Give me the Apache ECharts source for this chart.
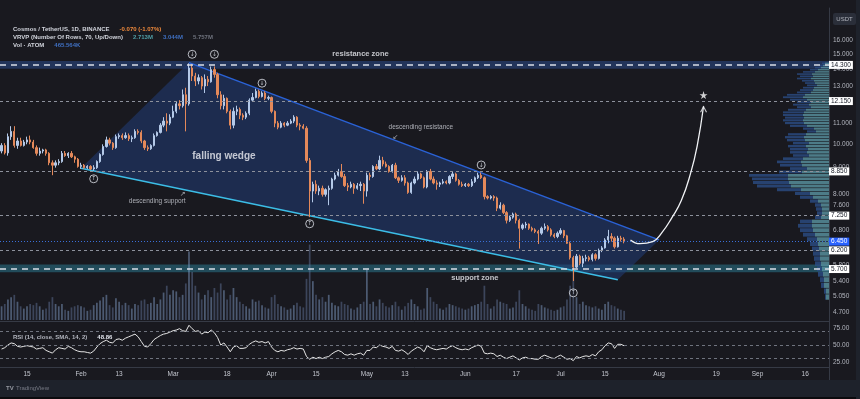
<!DOCTYPE html>
<html>
<head>
<meta charset="utf-8">
<title>ATOM/USDT 1D falling wedge</title>
<script src="https://cdn.jsdelivr.net/npm/echarts@6/dist/echarts.min.js"></script>
<style>
html, body { margin: 0; padding: 0; background: #19191f; }
#chart { width: 860px; height: 399px; }
</style>
</head>
<body>
<div id="chart"></div>
<script>
// daily categories shown on the time scale
var startDay = '2024-01-07';
var endDay = '2024-09-23';

// ATOM/USDT daily candles from Jan 7, [open, close, low, high]
var ohlc = [
    // Jan
    [9.70, 9.95, 9.60, 10.05], [9.95, 9.62, 9.55, 10.05], [9.62, 10.35, 9.50, 10.50], [10.35, 10.60, 10.20, 10.85],
    [10.60, 9.95, 9.85, 10.85], [9.95, 10.15, 9.80, 10.30], [10.15, 9.95, 9.90, 10.30], [9.95, 10.10, 9.90, 10.20],
    [10.10, 10.20, 10.00, 10.35], [10.20, 10.10, 10.00, 10.40], [10.10, 9.85, 9.80, 10.20], [9.85, 9.60, 9.50, 9.95],
    [9.60, 9.70, 9.50, 9.85], [9.70, 9.75, 9.60, 9.80], [9.75, 9.60, 9.50, 9.80], [9.60, 9.20, 9.10, 9.65],
    [9.20, 9.10, 8.70, 9.30], [9.10, 9.20, 9.00, 9.30], [9.20, 9.25, 9.10, 9.35], [9.25, 9.60, 9.20, 9.70],
    [9.60, 9.50, 9.45, 9.70], [9.50, 9.60, 9.40, 9.65], [9.60, 9.45, 9.40, 9.70], [9.45, 9.35, 9.20, 9.50],
    [9.35, 9.05, 9.00, 9.40],
    // Feb
    [9.05, 9.10, 8.95, 9.20], [9.10, 9.00, 8.95, 9.15], [9.00, 9.05, 8.95, 9.10], [9.05, 8.95, 8.90, 9.10],
    [8.95, 9.00, 8.88, 9.10], [9.00, 9.25, 8.95, 9.30], [9.25, 9.55, 9.20, 9.60], [9.55, 9.90, 9.50, 10.00],
    [9.90, 10.20, 9.85, 10.35], [10.20, 10.05, 9.95, 10.30], [10.05, 9.85, 9.75, 10.10], [9.85, 10.35, 9.80, 10.45],
    [10.35, 10.40, 10.25, 10.50], [10.40, 10.30, 10.20, 10.50], [10.30, 10.40, 10.25, 10.55], [10.40, 10.25, 10.15, 10.50],
    [10.25, 10.30, 10.10, 10.40], [10.30, 10.60, 10.25, 10.70], [10.60, 10.55, 10.45, 10.70], [10.55, 10.15, 10.05, 10.65],
    [10.15, 9.85, 9.75, 10.20], [9.85, 9.80, 9.70, 9.95], [9.80, 9.95, 9.75, 10.00], [9.95, 10.40, 9.90, 10.50],
    [10.40, 10.55, 10.35, 10.60], [10.55, 10.90, 10.50, 11.00], [10.90, 11.10, 10.80, 11.30], [11.10, 11.00, 10.60, 11.50],
    [11.00, 11.30, 10.90, 11.45],
    // Mar
    [11.30, 11.60, 11.25, 11.90], [11.60, 12.00, 11.50, 12.10], [12.00, 11.90, 11.70, 12.20], [11.90, 12.50, 11.80, 12.80],
    [12.50, 12.00, 10.60, 12.90], [12.00, 14.10, 11.90, 14.40], [14.10, 13.60, 13.30, 14.35], [13.60, 13.30, 13.00, 13.80],
    [13.30, 13.50, 13.10, 13.70], [13.50, 13.00, 12.80, 13.60], [13.00, 13.40, 12.60, 13.70], [13.40, 13.25, 13.00, 13.60],
    [13.25, 14.00, 13.20, 14.20], [14.00, 13.70, 13.50, 14.20], [13.70, 12.50, 12.30, 13.80], [12.50, 11.90, 11.70, 12.70],
    [11.90, 12.30, 11.70, 12.50], [12.30, 11.60, 11.50, 12.35], [11.60, 10.90, 10.70, 11.70], [10.90, 11.60, 10.75, 11.80],
    [11.60, 11.70, 11.40, 11.90], [11.70, 11.40, 11.20, 11.80], [11.40, 11.30, 11.15, 11.50], [11.30, 11.50, 11.20, 11.60],
    [11.50, 12.20, 11.40, 12.30], [12.20, 12.35, 12.10, 12.60], [12.35, 12.70, 12.30, 12.85], [12.70, 12.40, 12.30, 12.80],
    [12.40, 12.60, 12.35, 12.70], [12.60, 12.30, 12.20, 12.70], [12.30, 12.35, 12.20, 12.45],
    // Apr
    [12.35, 11.60, 11.50, 12.40], [11.60, 11.00, 10.80, 11.65], [11.00, 10.80, 10.70, 11.10], [10.80, 11.00, 10.75, 11.10],
    [11.00, 10.90, 10.80, 11.05], [10.90, 11.00, 10.85, 11.10], [11.00, 11.10, 10.95, 11.20], [11.10, 11.30, 11.00, 11.40],
    [11.30, 10.90, 10.80, 11.35], [10.90, 10.85, 10.65, 11.00], [10.85, 10.75, 10.70, 10.95], [10.75, 9.30, 9.20, 10.85],
    [9.30, 8.10, 7.20, 9.40], [8.10, 8.35, 7.70, 8.45], [8.35, 8.10, 8.00, 8.50], [8.10, 8.20, 7.95, 8.30],
    [8.20, 7.98, 7.90, 8.30], [7.98, 8.15, 7.90, 8.20], [8.15, 8.20, 7.60, 8.30], [8.20, 8.55, 8.15, 8.60],
    [8.55, 8.70, 8.50, 8.80], [8.70, 8.85, 8.65, 8.95], [8.85, 8.65, 8.60, 9.15], [8.65, 8.30, 8.25, 8.75],
    [8.30, 8.25, 8.10, 8.40], [8.25, 8.35, 8.20, 8.45], [8.35, 8.20, 8.00, 8.40], [8.20, 8.30, 8.15, 8.40],
    [8.30, 8.35, 8.10, 8.45], [8.35, 8.10, 7.65, 8.40],
    // May
    [8.10, 8.70, 7.90, 8.80], [8.70, 8.65, 8.50, 8.80], [8.65, 9.05, 8.60, 9.10], [9.05, 8.95, 8.90, 9.15],
    [8.95, 9.30, 8.90, 9.50], [9.30, 9.15, 9.05, 9.45], [9.15, 9.05, 9.00, 9.25], [9.05, 8.85, 8.80, 9.10],
    [8.85, 9.10, 8.80, 9.15], [9.10, 8.60, 8.55, 9.20], [8.60, 8.50, 8.40, 8.65], [8.50, 8.60, 8.45, 8.70],
    [8.60, 8.40, 8.30, 8.70], [8.40, 8.05, 8.00, 8.45], [8.05, 8.40, 8.00, 8.45], [8.40, 8.55, 8.35, 8.65],
    [8.55, 8.75, 8.50, 8.85], [8.75, 8.60, 8.55, 8.80], [8.60, 8.25, 8.20, 8.65], [8.25, 8.85, 8.20, 8.90],
    [8.85, 8.55, 8.50, 8.95], [8.55, 8.40, 8.35, 8.65], [8.40, 8.35, 8.15, 8.50], [8.35, 8.40, 8.25, 8.45],
    [8.40, 8.45, 8.35, 8.55], [8.45, 8.40, 8.35, 8.50], [8.40, 8.65, 8.35, 8.70], [8.65, 8.75, 8.55, 8.85],
    [8.75, 8.50, 8.45, 8.80], [8.50, 8.35, 8.30, 8.55], [8.35, 8.30, 8.25, 8.45],
    // Jun
    [8.30, 8.35, 8.25, 8.40], [8.35, 8.30, 8.25, 8.40], [8.30, 8.45, 8.25, 8.55], [8.45, 8.60, 8.40, 8.65],
    [8.60, 8.70, 8.55, 8.80], [8.70, 8.60, 8.55, 8.80], [8.60, 7.90, 7.80, 8.65], [7.90, 7.85, 7.80, 7.95],
    [7.85, 7.90, 7.80, 7.95], [7.90, 7.85, 7.75, 7.95], [7.85, 7.50, 7.40, 7.90], [7.50, 7.60, 7.45, 7.70],
    [7.60, 7.35, 7.30, 7.65], [7.35, 7.10, 7.00, 7.40], [7.10, 7.20, 7.05, 7.25], [7.20, 7.30, 7.15, 7.35],
    [7.30, 7.10, 7.00, 7.35], [7.10, 6.85, 6.25, 7.15], [6.85, 6.95, 6.80, 7.00], [6.95, 6.98, 6.85, 7.05],
    [6.98, 6.85, 6.80, 7.00], [6.85, 6.80, 6.75, 6.90], [6.80, 6.75, 6.70, 6.85], [6.75, 6.70, 6.38, 6.80],
    [6.70, 6.85, 6.65, 6.90], [6.85, 6.90, 6.80, 7.00], [6.90, 6.80, 6.75, 6.95], [6.80, 6.65, 6.60, 6.85],
    [6.65, 6.60, 6.55, 6.70], [6.60, 6.70, 6.55, 6.75],
    // Jul
    [6.70, 6.78, 6.65, 6.85], [6.78, 6.62, 6.55, 6.80], [6.62, 6.40, 6.38, 6.65], [6.40, 6.00, 5.95, 6.45],
    [6.00, 5.75, 5.40, 6.05], [5.75, 6.04, 5.72, 6.10], [6.04, 5.85, 5.80, 6.08], [5.85, 5.98, 5.75, 6.05],
    [5.98, 6.00, 5.90, 6.08], [6.00, 5.95, 5.90, 6.05], [5.95, 6.08, 5.90, 6.12], [6.08, 5.98, 5.92, 6.12],
    [5.98, 6.20, 5.95, 6.25], [6.20, 6.27, 6.15, 6.32], [6.27, 6.50, 6.25, 6.55], [6.50, 6.60, 6.40, 6.80],
    [6.60, 6.55, 6.45, 6.70], [6.55, 6.30, 6.25, 6.60], [6.30, 6.55, 6.28, 6.62], [6.55, 6.52, 6.45, 6.62],
    [6.52, 6.45, 6.40, 6.58]
];

// daily volume, millions of ATOM
var volume = [
    12, 14, 18, 20, 22, 16, 12, 10, 12, 14, 13, 15, 12, 9, 10, 16, 20, 14, 12, 14, 9, 8, 11, 12, 13,
    12, 11, 8, 9, 13, 15, 17, 20, 22, 13, 11, 19, 16, 13, 15, 13, 10, 14, 13, 17, 18, 14, 15, 20, 14, 18, 24, 30, 22,
    26, 25, 20, 22, 32, 60, 42, 30, 24, 18, 22, 26, 20, 28, 24, 32, 26, 18, 22, 28, 20, 16, 14, 12, 10, 18, 16, 17, 13, 11, 10,
    20, 22, 14, 12, 11, 9, 10, 13, 15, 12, 11, 36, 66, 34, 22, 18, 20, 16, 22, 15, 13, 12, 16, 14, 13, 10, 9, 11, 14, 16,
    44, 14, 16, 12, 18, 15, 12, 11, 13, 16, 12, 9, 12, 15, 18, 14, 12, 9, 10, 28, 20, 16, 14, 10, 9, 11, 14, 13, 12, 11, 10,
    9, 10, 12, 13, 14, 16, 30, 14, 10, 12, 18, 16, 15, 14, 10, 11, 16, 26, 14, 12, 10, 9, 8, 14, 13, 11, 10, 9, 8, 9,
    11, 12, 18, 30, 44, 20, 14, 16, 13, 12, 11, 12, 10, 9, 14, 16, 13, 12, 10, 9, 8
];

// RSI(14) daily
var rsi = [
    44, 46, 50, 53, 52, 48, 47, 48, 49, 48,
    47, 44, 45, 46, 42, 40, 38, 43, 46, 45,
    44, 48, 46, 43, 41, 40, 40, 39, 38, 41,
    47, 52, 55, 57, 54, 53, 58, 59, 57, 60,
    62, 64, 66, 62, 55, 48, 47, 52, 58, 61,
    64, 66, 67, 69, 71, 72, 74, 71, 70, 79,
    74, 70, 71, 66, 69, 68, 72, 68, 61, 50,
    53, 47, 40, 47, 49, 45, 45, 46, 51, 54,
    56, 54, 55, 53, 55, 47, 42, 40, 42, 41,
    43, 44, 46, 44, 45, 44, 33, 29, 32, 30,
    32, 30, 32, 33, 37, 40, 42, 40, 36, 35,
    37, 35, 37, 38, 35, 42, 42, 47, 46, 50,
    48, 47, 45, 48, 42, 41, 43, 40, 36, 41,
    44, 47, 45, 40, 49, 46, 44, 43, 44, 45,
    44, 47, 49, 46, 44, 43, 44, 43, 46, 48,
    50, 48, 38, 37, 38, 37, 33, 35, 32, 30,
    32, 34, 31, 28, 31, 32, 30, 30, 29, 29,
    33, 35, 33, 31, 30, 33, 35, 32, 29, 30,
    27, 33, 31, 33, 34, 33, 36, 34, 40, 43,
    49, 53, 52, 45, 51, 51, 48.86
];

// price scale labels, key levels
var priceTicks = [16, 15, 14, 13, 11, 10, 9, 8, 7.6, 6.8, 5.8, 5.4, 5.05, 4.7];
var keyLevels = [14.3, 12.15, 8.85, 7.25, 6.2, 5.7];
var zoneLevels = [14.3, 5.7];
var lastPrice = 6.45;
var resistanceBand = [14.05, 14.55];
var supportBand = [5.62, 5.82];
var rsiLevels = [70, 50, 30];
var rsiTicks = [25, 50, 75];
var timeTicks = ['2024-01-15', '2024-02-01', '2024-02-13', '2024-03-01', '2024-03-18', '2024-04-01',
    '2024-04-15', '2024-05-01', '2024-05-13', '2024-06-01', '2024-06-17', '2024-07-01', '2024-07-15',
    '2024-08-01', '2024-08-19', '2024-09-01', '2024-09-16'];

// drawing: wedge, trend lines, projected move
var wedgeFill = [['2024-02-01', 8.98], ['2024-03-06', 14.45], ['2024-08-01', 6.50], ['2024-07-19', 5.43]];
var upperLine = [['2024-03-06', 14.45], ['2024-08-01', 6.50]];
var lowerLine = [['2024-02-01', 8.98], ['2024-07-19', 5.43]];
var projection = [['2024-07-23', 6.50], ['2024-07-26', 6.39], ['2024-07-30', 6.45], ['2024-08-02', 6.73],
    ['2024-08-05', 7.18], ['2024-08-08', 7.76], ['2024-08-11', 8.81], ['2024-08-13', 9.93], ['2024-08-15', 11.87]];
var target = ['2024-08-15', 12.48];
var touches = [['2024-02-05', 8.56, '↑'], ['2024-03-07', 15.0, '↓'], ['2024-03-14', 15.0, '↓'],
    ['2024-03-29', 13.17, '↓'], ['2024-04-13', 6.99, '↑'], ['2024-06-06', 9.11, '↓'], ['2024-07-05', 5.12, '↑']];
var notes = [
    ['2024-04-29', 15.0, 'resistance zone', 'zone'],
    ['2024-05-18', 10.8, 'descending resistance', 'tag'],
    ['2024-05-10', 10.34, '↙', 'arrow'],
    ['2024-03-17', 9.49, 'falling wedge', 'title'],
    ['2024-02-25', 7.74, 'descending support', 'tag'],
    ['2024-03-04', 7.98, '↗', 'arrow'],
    ['2024-06-04', 5.47, 'support zone', 'zone']
];

// legend lines at the top left
var headerLines = [
    [['Cosmos / TetherUS, 1D, BINANCE', 'w'], ['-0.070 (-1.07%)', 'o']],
    [['VRVP (Number Of Rows, 70, Up/Down)', 'w'], ['2.713M', 't'], ['3.044M', 'b'], ['5.757M', 'g']],
    [['Vol · ATOM', 'w'], ['465.564K', 'b']]
];

// visible range volume profile, 70 rows from 4.95 upward
var profileBase = 4.95;
var profileStep = 0.1357;
var profileUp = [3, 3, 5, 5, 6, 7, 8, 9, 9, 10, 11, 12, 14, 16, 17, 17, 8, 7, 7, 8,
    11, 16, 19, 28, 38, 40, 41, 41, 27, 22, 27, 28, 26, 20, 22, 21, 23, 20, 24, 25,
    23, 13, 15, 22, 25, 26, 25, 26, 25, 23, 18, 20, 18, 22, 26, 24, 18, 16, 15, 12,
    14, 15, 18, 16, 17, 14, 11, 8, 6, 4];
var profileDown = [1, 2, 3, 4, 5, 5, 6, 6, 7, 7, 8, 10, 12, 13, 14, 12, 6, 5, 6, 6,
    8, 13, 15, 24, 34, 36, 36, 39, 23, 17, 22, 24, 20, 16, 17, 18, 18, 16, 18, 19,
    18, 9, 11, 17, 19, 20, 19, 20, 21, 18, 14, 16, 14, 17, 20, 18, 14, 13, 11, 10,
    10, 12, 14, 13, 15, 12, 8, 6, 4, 3];

var dates = [];
for (var d = new Date(startDay + 'T00:00:00Z'); d <= new Date(endDay + 'T00:00:00Z'); d.setUTCDate(d.getUTCDate() + 1)) {
    dates.push(d.toISOString().slice(0, 10));
}
var months = ['Jan', 'Feb', 'Mar', 'Apr', 'May', 'Jun', 'Jul', 'Aug', 'Sep', 'Oct', 'Nov', 'Dec'];
var tickSet = {};
timeTicks.forEach(function (t) { tickSet[t] = true; });

var upColor = '#b4c9e8', downColor = '#e4895a';
var textColor = '#b2b5be', lineColor = '#363a45';
var font = 'Liberation Sans';
var headerColors = { w: '#d1d4dc', o: '#f08a3c', t: '#4f9ea6', b: '#3f6fc0', g: '#6f737e' };

var candleData = ohlc.map(function (r) { return [r[0], r[1], r[2], r[3]]; });
var volumeData = volume.map(function (v, i) {
    var up = ohlc[i][1] >= ohlc[i][0];
    return { value: v, itemStyle: { color: up ? 'rgba(140,170,215,0.45)' : 'rgba(105,125,165,0.45)' } };
});

var tickLines = priceTicks.map(function (v) {
    return { yAxis: v, lineStyle: { color: 'rgba(0,0,0,0)', width: 0 }, label: { formatter: v.toFixed(3) } };
});

var levelLines = keyLevels.map(function (v) {
    var zone = zoneLevels.indexOf(v) >= 0;
    return {
        yAxis: v,
        lineStyle: zone ? { color: '#d9dde6', width: 1.6, type: [6, 5] } : { color: '#8d919c', width: 1, type: [3, 3] },
        label: { formatter: v.toFixed(3), backgroundColor: '#ffffff', color: '#131722' }
    };
});
levelLines.push({
    yAxis: lastPrice,
    lineStyle: { color: '#3a6fd8', width: 1, type: [1, 2] },
    label: { formatter: lastPrice.toFixed(3), backgroundColor: '#2962ff', color: '#ffffff' }
});

var noteStyles = {
    title: { fontSize: 10, fontWeight: 'bold', color: '#eceef3' },
    zone: { fontSize: 7.5, fontWeight: 'bold', color: '#eceef3' },
    tag: { fontSize: 6.5, color: '#cfd2da' },
    arrow: { fontSize: 7, color: '#cfd2da', fontFamily: 'DejaVu Sans' }
};

var richHeader = {};
Object.keys(headerColors).forEach(function (k) {
    richHeader[k] = { fontSize: 6, color: headerColors[k], fontFamily: font };
});
var titles = headerLines.map(function (parts, row) {
    return {
        left: 8, top: 15 + row * 8,
        text: parts.map(function (p) { return '{' + p[1] + '|' + p[0] + '}'; }).join('  '),
        textStyle: { rich: richHeader }
    };
});
titles.push({
    left: 8, top: 323,
    text: '{w|RSI (14, close, SMA, 14, 2)}  {v|48.86}',
    textStyle: {
        rich: {
            w: { fontSize: 6, color: '#b2b5be', fontFamily: font },
            v: { fontSize: 6, color: '#e0e3eb', fontFamily: font }
        }
    }
});

var chart = echarts.init(document.getElementById('chart'));

var option = {
    backgroundColor: '#19191f',
    animation: false,
    textStyle: { fontFamily: font },
    title: titles,
    graphic: [
        { type: 'rect', shape: { x: 0, y: 380, width: 860, height: 17 }, style: { fill: '#1e222b' } },
        { type: 'rect', shape: { x: 0, y: 397, width: 860, height: 2 }, style: { fill: '#0b0b0e' } },
        { type: 'rect', shape: { x: 856, y: 0, width: 4, height: 399 }, style: { fill: '#1e222b' } },
        { type: 'line', shape: { x1: 829.5, y1: 367, x2: 829.5, y2: 380 }, style: { stroke: lineColor, lineWidth: 1 } },
        { type: 'rect', shape: { x: 833, y: 13, width: 23, height: 12, r: 2 }, style: { fill: '#2a2e39' } },
        { type: 'text', x: 844.5, y: 19, style: { text: 'USDT', fill: '#b2b5be', font: '6px ' + font, align: 'center', verticalAlign: 'middle' } },
        { type: 'text', x: 6, y: 388, style: { text: 'TV', fill: '#9598a1', font: 'bold 6px ' + font, verticalAlign: 'middle' } },
        { type: 'text', x: 16, y: 388, style: { text: 'TradingView', fill: '#787b86', font: '6px ' + font, verticalAlign: 'middle' } }
    ],
    grid: [
        { left: 0, right: 31, top: 8, height: 313 },
        { left: 0, right: 31, top: 240, height: 80 },
        { left: 0, right: 31, top: 321, height: 46 }
    ],
    xAxis: [
        { type: 'category', gridIndex: 0, data: dates, boundaryGap: true,
          axisLine: { show: true, lineStyle: { color: lineColor } }, axisTick: { show: false }, axisLabel: { show: false }, splitLine: { show: false } },
        { type: 'category', gridIndex: 1, data: dates, boundaryGap: true, show: false },
        { type: 'category', gridIndex: 2, data: dates, boundaryGap: true,
          axisLine: { show: true, lineStyle: { color: lineColor } }, axisTick: { show: false }, splitLine: { show: false },
          axisLabel: {
              color: '#c3c6ce', fontSize: 6.5, margin: 4, fontFamily: font,
              interval: function (index, value) { return !!tickSet[value]; },
              formatter: function (value) {
                  var day = +value.slice(8, 10);
                  return day === 1 ? months[+value.slice(5, 7) - 1] : String(day);
              }
          } }
    ],
    yAxis: [
        { type: 'log', gridIndex: 0, min: 4.51, max: 18.48, position: 'right',
          axisLine: { show: true, lineStyle: { color: lineColor } }, axisTick: { show: false }, axisLabel: { show: false }, splitLine: { show: false } },
        { type: 'value', gridIndex: 1, min: 0, max: 70, show: false, splitLine: { show: false } },
        { type: 'value', gridIndex: 2, min: 17.6, max: 85.3, position: 'right',
          axisLine: { show: true, lineStyle: { color: lineColor } }, axisTick: { show: false }, splitLine: { show: false },
          axisLabel: { customValues: rsiTicks, color: textColor, fontSize: 6.5, margin: 4, fontFamily: font,
                       formatter: function (v) { return v.toFixed(2); } } }
    ],
    series: [
        {
            name: 'wedge', type: 'custom', xAxisIndex: 0, yAxisIndex: 0, z: 1, silent: true,
            data: wedgeFill.map(function (p) { return [dates.indexOf(p[0]), p[1]]; }),
            renderItem: function (params, api) {
                if (params.dataIndex !== 0) return null;
                var pts = wedgeFill.map(function (p) { return api.coord([dates.indexOf(p[0]), p[1]]); });
                return { type: 'polygon', shape: { points: pts }, style: { fill: 'rgba(33,60,118,0.55)' } };
            }
        },
        {
            name: 'volume profile', type: 'custom', xAxisIndex: 0, yAxisIndex: 0, z: 2, silent: true,
            data: profileUp.map(function (u, k) { return [dates.length - 1, profileBase + profileStep * (k + 0.5)]; }),
            renderItem: function (params, api) {
                var k = params.dataIndex;
                var lo = profileBase + profileStep * k, hi = lo + profileStep;
                var yTop = api.coord([0, hi])[1], yBot = api.coord([0, lo])[1];
                var right = params.coordSys.x + params.coordSys.width;
                var up = profileUp[k], dn = profileDown[k];
                var h = Math.max(yBot - yTop - 0.6, 0.8);
                return { type: 'group', children: [
                    { type: 'rect', shape: { x: right - up, y: yTop, width: up, height: h }, style: { fill: 'rgba(92,152,166,0.78)' } },
                    { type: 'rect', shape: { x: right - up - dn, y: yTop, width: dn, height: h }, style: { fill: 'rgba(44,78,136,0.78)' } }
                ] };
            }
        },
        {
            name: 'volume', type: 'bar', xAxisIndex: 1, yAxisIndex: 1, z: 2, barWidth: '55%', silent: true,
            data: volumeData
        },
        {
            name: 'descending support', type: 'line', xAxisIndex: 0, yAxisIndex: 0, z: 3, silent: true,
            data: lowerLine, symbol: 'none', lineStyle: { color: '#3cbde6', width: 1.5 },
            markArea: {
                silent: true,
                data: [
                    [{ yAxis: resistanceBand[0], itemStyle: { color: 'rgba(38,64,116,0.7)' } }, { yAxis: resistanceBand[1] }],
                    [{ yAxis: supportBand[0], itemStyle: { color: 'rgba(36,86,102,0.85)' } }, { yAxis: supportBand[1] }]
                ]
            }
        },
        {
            name: 'descending resistance', type: 'line', xAxisIndex: 0, yAxisIndex: 0, z: 3, silent: true,
            data: upperLine, symbol: 'none', lineStyle: { color: '#2a62d6', width: 1.5 },
            markLine: {
                silent: true, symbol: ['none', 'none'],
                label: { show: true, position: 'end', distance: 4, color: textColor, fontSize: 6.5, fontFamily: font },
                data: tickLines
            }
        },
        {
            name: 'ATOMUSDT', type: 'candlestick', xAxisIndex: 0, yAxisIndex: 0, z: 4, silent: true,
            data: candleData, barWidth: '55%',
            itemStyle: { color: upColor, color0: downColor, borderColor: upColor, borderColor0: downColor, borderWidth: 1 },
            markLine: {
                silent: true, symbol: ['none', 'none'],
                label: { position: 'end', distance: 0, fontSize: 6.5, padding: [1, 2, 0, 2], fontFamily: font },
                data: levelLines
            }
        },
        {
            name: 'projection', type: 'line', xAxisIndex: 0, yAxisIndex: 0, z: 5, silent: true,
            data: projection, smooth: 0.5, symbol: 'none', lineStyle: { color: '#f0f2f5', width: 1.3 }
        },
        {
            name: 'arrowhead', type: 'scatter', xAxisIndex: 0, yAxisIndex: 0, z: 5, silent: true,
            data: [projection[projection.length - 1]],
            symbol: 'path://M0 8 L4 0 L8 8 L6.8 8.6 L4 2.6 L1.2 8.6 Z', symbolSize: [7, 7], symbolOffset: [0, '40%'],
            itemStyle: { color: '#f0f2f5' }
        },
        {
            name: 'target', type: 'scatter', xAxisIndex: 0, yAxisIndex: 0, z: 5, silent: true,
            data: [target],
            symbol: 'path://M5 0 L6.2 3.6 L10 3.6 L6.9 5.9 L8.1 9.5 L5 7.3 L1.9 9.5 L3.1 5.9 L0 3.6 L3.8 3.6 Z', symbolSize: 8,
            itemStyle: { color: '#ffffff' }
        },
        {
            name: 'touches', type: 'scatter', xAxisIndex: 0, yAxisIndex: 0, z: 6, silent: true,
            data: touches.map(function (t) {
                return { value: [t[0], t[1]], label: { formatter: t[2] } };
            }),
            symbol: 'circle', symbolSize: 8,
            itemStyle: { color: 'rgba(25,25,31,0.6)', borderColor: '#e0e3eb', borderWidth: 1 },
            label: { show: true, position: 'inside', fontSize: 6, color: '#e0e3eb', fontFamily: 'DejaVu Sans' }
        },
        {
            name: 'notes', type: 'scatter', xAxisIndex: 0, yAxisIndex: 0, z: 6, silent: true,
            symbolSize: 1, itemStyle: { color: 'rgba(0,0,0,0)' },
            data: notes.map(function (n) {
                return { value: [n[0], n[1]],
                         label: Object.assign({ show: true, position: 'inside', formatter: n[2], fontFamily: font }, noteStyles[n[3]]) };
            })
        },
        {
            name: 'RSI', type: 'line', xAxisIndex: 2, yAxisIndex: 2, z: 4, silent: true,
            data: rsi, symbol: 'none', lineStyle: { color: '#e6e6e6', width: 1 },
            markLine: {
                silent: true, symbol: ['none', 'none'], label: { show: false },
                lineStyle: { color: '#6f737e', width: 1, type: [3, 3] },
                data: rsiLevels.map(function (v) { return { yAxis: v }; })
            }
        }
    ]
};

chart.setOption(option);
</script>
</body>
</html>
